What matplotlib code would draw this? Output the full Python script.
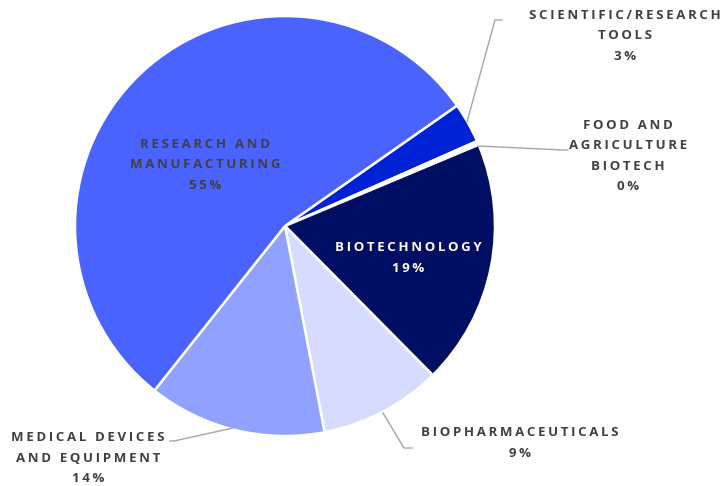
import matplotlib
matplotlib.use("Agg")
import matplotlib.pyplot as plt

categories = ["SCIENTIFIC/RESEARCH\nTOOLS", "FOOD AND\nAGRICULTURE\nBIOTECH", "BIOTECHNOLOGY",
              "BIOPHARMACEUTICALS", "MEDICAL DEVICES\nAND EQUIPMENT", "RESEARCH AND\nMANUFACTURING"]
values = [3.1, 0.3, 18.9, 9.4, 13.7, 54.6]
colors = ["#0022D6", "#FFFFFF", "#000F63", "#D6DCFF", "#91A1FF", "#4A63FF"]

W, H = 728, 486
fig = plt.figure(figsize=(W / 100, H / 100), dpi=100)
ax = fig.add_axes([0, 0, 1, 1])

cx, cy, r = 285, H - 226, 210
ax.pie(values, colors=colors, startangle=35, counterclock=False,
       center=(cx, cy), radius=r, frame=True,
       wedgeprops=dict(edgecolor="white", linewidth=1.8))
ax.set_xlim(0, W)
ax.set_ylim(0, H)
ax.set_aspect("equal")
ax.axis("off")

def spaced(s):
    return "\n".join("\u2009".join(list(line)) for line in s.split("\n"))

fam = ["Open Sans", "DejaVu Sans"]
# label positions (pixel coords from top)
label_pos = [(625, 36), (628, 156), (408, 258), (520, 443), (88, 458), (205, 165)]
label_col = ["#404040", "#404040", "white", "#404040", "#404040", "#404040"]
for cat, v, (x, y), c in zip(categories, values, label_pos, label_col):
    txt = spaced(cat + "\n" + f"{v:.0f}%")
    ax.text(x, H - y, txt, ha="center", va="center", fontsize=9.5,
            fontweight="bold", color=c, family=fam, linespacing=1.75)

# leader lines
lc = "#A6A6A6"
leaders = [
    [(467, 122), (495, 20), (502, 20)],
    [(478, 146), (563, 150), (568, 150)],
    [(383, 413), (404, 448), (412, 448)],
    [(233, 428), (174, 441), (170, 441)],
]
for pts in leaders:
    xs = [p[0] for p in pts]
    ys = [H - p[1] for p in pts]
    ax.plot(xs, ys, color=lc, linewidth=1)

fig.savefig("out.png", dpi=100)
